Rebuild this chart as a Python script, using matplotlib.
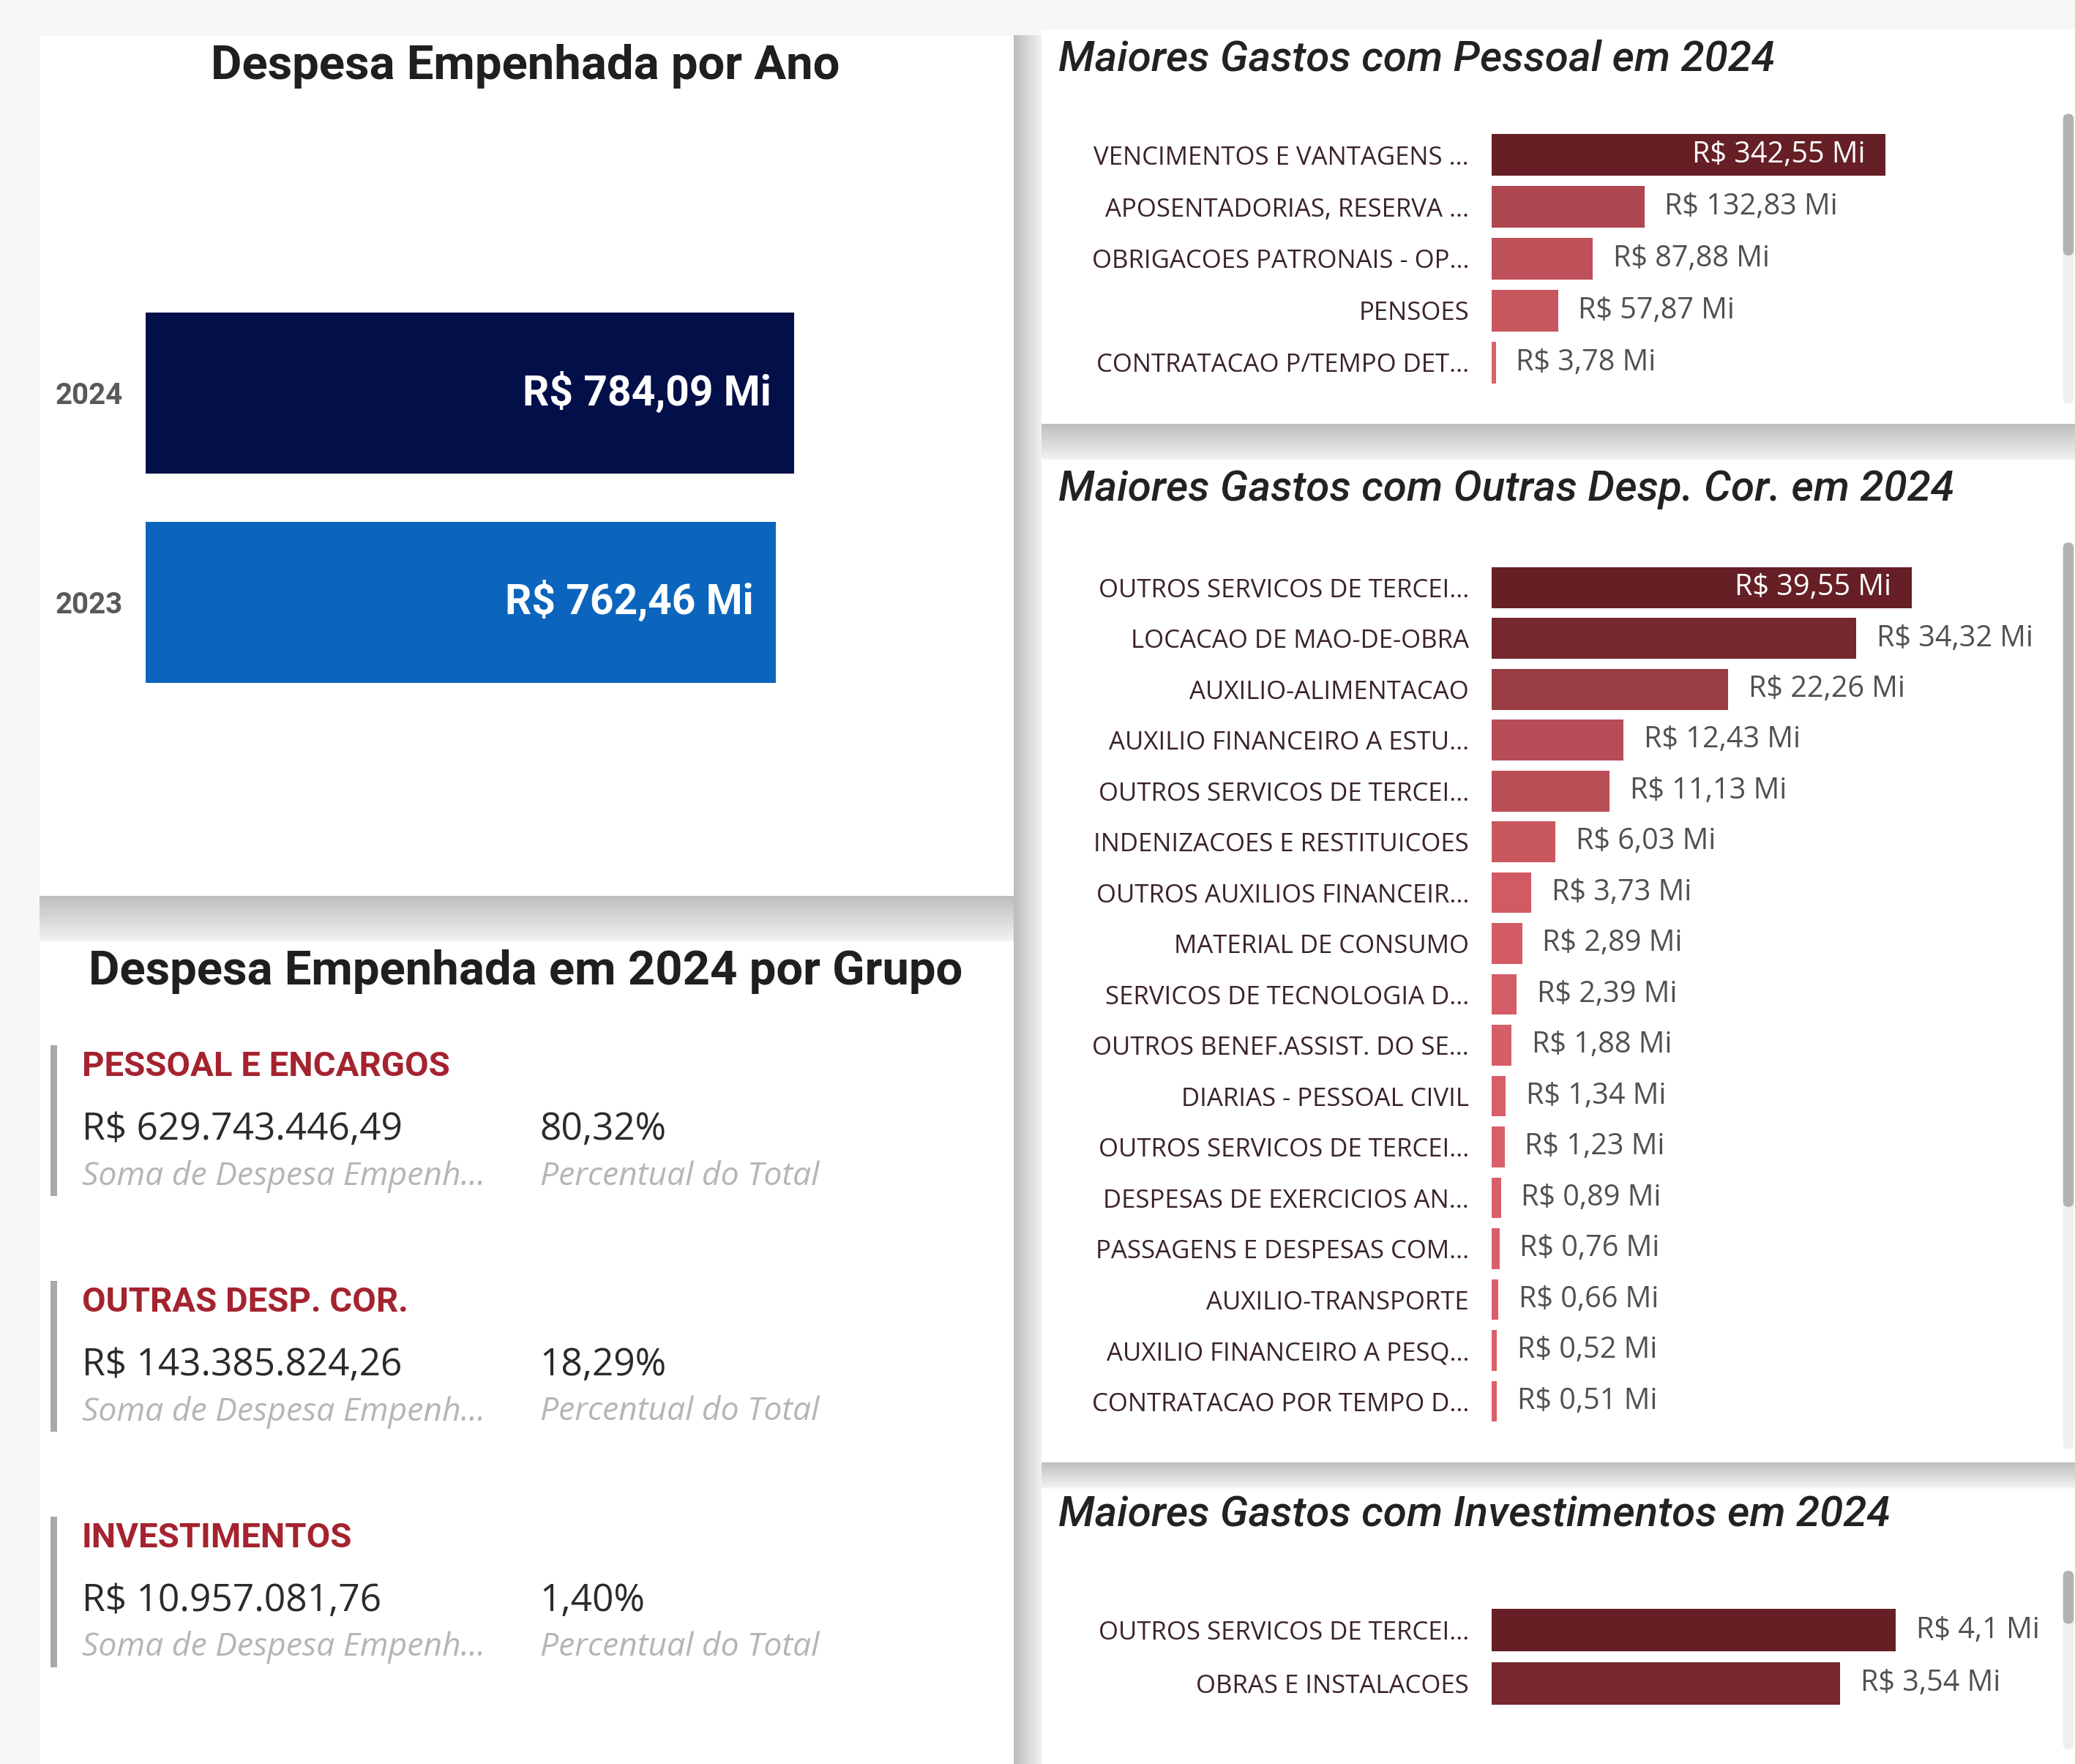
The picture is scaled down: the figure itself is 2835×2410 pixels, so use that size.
import matplotlib
matplotlib.use("Agg")
import matplotlib.pyplot as plt
import numpy as np
from matplotlib import font_manager
from matplotlib.colors import LinearSegmentedColormap
from matplotlib.patches import Rectangle, FancyBboxPatch

# despesa empenhada por ano (R$ milhoes)
anos = ["2024", "2023"]
despesa_ano = [784.09, 762.46]
cores_ano = ["#030f48", "#0b65bc"]

# maiores gastos 2024 por grupo (R$ milhoes)
pessoal_cat = ["VENCIMENTOS E VANTAGENS ...", "APOSENTADORIAS, RESERVA ...",
               "OBRIGACOES PATRONAIS - OP...", "PENSOES", "CONTRATACAO P/TEMPO DET..."]
pessoal_val = [342.55, 132.83, 87.88, 57.87, 3.78]

outras_cat = ["OUTROS SERVICOS DE TERCEI...", "LOCACAO DE MAO-DE-OBRA", "AUXILIO-ALIMENTACAO",
              "AUXILIO FINANCEIRO A ESTU...", "OUTROS SERVICOS DE TERCEI...",
              "INDENIZACOES E RESTITUICOES", "OUTROS AUXILIOS FINANCEIR...", "MATERIAL DE CONSUMO",
              "SERVICOS DE TECNOLOGIA D...", "OUTROS BENEF.ASSIST. DO SE...", "DIARIAS - PESSOAL CIVIL",
              "OUTROS SERVICOS DE TERCEI...", "DESPESAS DE EXERCICIOS AN...",
              "PASSAGENS E DESPESAS COM...", "AUXILIO-TRANSPORTE", "AUXILIO FINANCEIRO A PESQ...",
              "CONTRATACAO POR TEMPO D..."]
outras_val = [39.55, 34.32, 22.26, 12.43, 11.13, 6.03, 3.73, 2.89, 2.39, 1.88, 1.34, 1.23,
              0.89, 0.76, 0.66, 0.52, 0.51]

invest_cat = ["OUTROS SERVICOS DE TERCEI...", "OBRAS E INSTALACOES"]
invest_val = [4.10, 3.54]

# cartoes por grupo (R$)
grupos = ["PESSOAL E ENCARGOS", "OUTRAS DESP. COR.", "INVESTIMENTOS"]
grupo_valor = [629743446.49, 143385824.26, 10957081.76]

instaladas = {f.name for f in font_manager.fontManager.ttflist}


def fonte(*nomes):
    for n in nomes:
        if n in instaladas:
            return n
    return "DejaVu Sans"


TITULO = fonte("Roboto", "Lato", "DejaVu Sans")
TEXTO = fonte("Open Sans", "Noto Sans", "DejaVu Sans")

vinho = LinearSegmentedColormap.from_list("vinho", ["#db616b", "#661f25"])
cinza = LinearSegmentedColormap.from_list("sombra", ["#bdbdbd", "#f1f1f1"])

W, H = 1568, 1333
fig = plt.figure(figsize=(28.35, 24.10), dpi=100, facecolor="#f7f7f7")
bg = fig.add_axes([0, 0, 1, 1])
bg.axis("off")


def caixa(x0, y0, x1, y1):
    return [x0 / W, 1 - y1 / H, (x1 - x0) / W, (y1 - y0) / H]


def sombra(x0, y0, x1, y1, vertical=True):
    g = np.linspace(0, 1, 64)
    img = g[:, None] if vertical else g[None, :]
    bg.imshow(img, cmap=cinza, extent=(x0, x1, y1, y0), aspect="auto",
              interpolation="bicubic", zorder=1)


def painel(x0, y0, x1, y1):
    bg.add_patch(Rectangle((x0, y0), x1 - x0, y1 - y0, fc="white", ec="none", zorder=2))


def rolagem(x0, y0, y1, t0, t1):
    bg.add_patch(FancyBboxPatch((x0, y0), 8, y1 - y0, boxstyle="round,pad=0,rounding_size=4",
                                fc="#efefef", ec="none", zorder=3))
    bg.add_patch(FancyBboxPatch((x0, t0), 8, t1 - t0, boxstyle="round,pad=0,rounding_size=4",
                                fc="#b2b2b2", ec="none", zorder=4))


# sombras e paineis
sombra(766, 27, 787, H, vertical=False)
sombra(30, 677, 766, 711)
sombra(787, 320, W, 347)
sombra(787, 1105, W, 1124)
painel(30, 27, 766, 677)
painel(30, 712, 766, H)
painel(787, 22, W, 320)
painel(787, 348, W, 1105)
painel(787, 1125, W, H)
rolagem(1559, 86, 305, 86, 193)
rolagem(1559, 410, 1095, 410, 912)
rolagem(1559, 1187, 1322, 1187, 1227)

bg.set_xlim(0, W)
bg.set_ylim(H, 0)


def rotulo(v):
    s = f"{v:.2f}".rstrip("0").rstrip(".")
    return "R$ " + s.replace(".", ",") + " Mi"


def moeda(v):
    s = f"{v:,.2f}".replace(",", "_").replace(".", ",").replace("_", ".")
    return "R$ " + s


# despesa por ano
ax = fig.add_axes(caixa(110, 218, 735, 534))
ax.patch.set_visible(False)
y = np.arange(len(anos))
ax.barh(y, despesa_ano, height=0.77, color=cores_ano)
ax.set_xlim(0, 1000)
ax.set_ylim(len(anos) - 0.5, -0.5)
ax.set_yticks(y, anos, fontsize=29, fontfamily=TITULO, fontweight="bold", color="#595959")
ax.tick_params(axis="y", length=0, pad=22)
ax.set_xticks([])
for s in ax.spines.values():
    s.set_visible(False)
for i, v in enumerate(despesa_ano):
    ax.annotate(rotulo(v), (v, i), xytext=(-22, 0), textcoords="offset points",
                ha="right", va="center", color="white", fontsize=41,
                fontfamily=TITULO, fontweight="bold")


def barras(pos, cats, vals, xmax, dentro, fs_cat, fs_val):
    ax = fig.add_axes(caixa(*pos))
    ax.patch.set_visible(False)
    v = np.array(vals)
    y = np.arange(len(v))
    ax.barh(y, v, height=0.8, color=vinho(v / v.max()))
    ax.set_xlim(0, xmax)
    ax.set_ylim(len(v) - 0.5, -0.5)
    ax.set_yticks(y, cats, fontsize=fs_cat, fontfamily=TEXTO, color="#3a2329")
    ax.tick_params(axis="y", length=0, pad=22)
    ax.set_xticks([])
    for s in ax.spines.values():
        s.set_visible(False)
    for i, val in enumerate(v):
        if dentro and i == 0:
            ax.annotate(rotulo(val), (val, i), xytext=(-20, 0), textcoords="offset points",
                        ha="right", va="center", color="white", fontsize=fs_val, fontfamily=TEXTO)
        else:
            ax.annotate(rotulo(val), (val, i), xytext=(20, 0), textcoords="offset points",
                        ha="left", va="center", color="#505050", fontsize=fs_val, fontfamily=TEXTO)
    return ax


barras((1127, 97.4, 1475, 293.6), pessoal_cat, pessoal_val, 400, True, 25, 28.5)
barras((1127, 424.8, 1528.5, 1078.2), outras_cat, outras_val, 50, True, 25, 28.5)
barras((1127, 1212, 1536.75, 1292), invest_cat, invest_val, 5.5, False, 25, 28.5)

# titulos
bg.text(397, 50, "Despesa Empenhada por Ano", ha="center", va="center", fontsize=47,
        fontfamily=TITULO, fontweight="bold", color="#1f1f1f", zorder=5)
bg.text(397, 734, "Despesa Empenhada em 2024 por Grupo", ha="center", va="center", fontsize=47,
        fontfamily=TITULO, fontweight="bold", color="#1f1f1f", zorder=5)
for yt, t in [(45, "Maiores Gastos com Pessoal em 2024"),
              (370, "Maiores Gastos com Outras Desp. Cor. em 2024"),
              (1145, "Maiores Gastos com Investimentos em 2024")]:
    bg.text(800, yt, t, ha="left", va="center", fontsize=42, fontfamily=TITULO,
            fontstyle="italic", fontweight="medium", color="#222222", zorder=5)

# cartoes por grupo
total = sum(grupo_valor)
for i, (g, val) in enumerate(zip(grupos, grupo_valor)):
    dy = 178 * i
    bg.add_patch(Rectangle((38, 790 + dy), 5, 114, fc="#a9a9a9", ec="none", zorder=5))
    bg.text(62, 806 + dy, g, ha="left", va="center", fontsize=34, fontfamily=TITULO,
            fontweight="bold", color="#a4232f", zorder=5)
    bg.text(62, 854 + dy, moeda(val), ha="left", va="center", fontsize=37,
            fontfamily=TEXTO, color="#2b2b2b", zorder=5)
    pct = f"{100 * val / total:.2f}".replace(".", ",") + "%"
    bg.text(408, 854 + dy, pct, ha="left", va="center", fontsize=37,
            fontfamily=TEXTO, color="#2b2b2b", zorder=5)
    bg.text(62, 889 + dy, "Soma de Despesa Empenh...", ha="left", va="center", fontsize=32,
            fontfamily=TEXTO, fontstyle="italic", color="#b5b5b5", zorder=5)
    bg.text(408, 889 + dy, "Percentual do Total", ha="left", va="center", fontsize=32,
            fontfamily=TEXTO, fontstyle="italic", color="#b5b5b5", zorder=5)

fig.savefig("out.png", dpi=100, facecolor=fig.get_facecolor())
